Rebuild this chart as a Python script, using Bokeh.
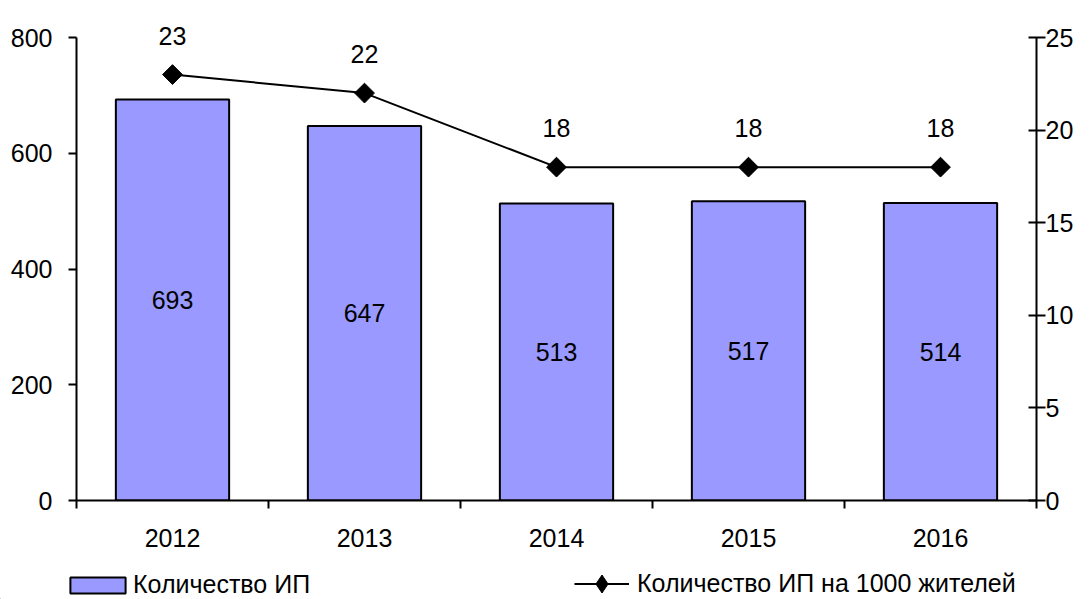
import math
from bokeh.plotting import figure
from bokeh.layouts import column
from bokeh.models import (Range1d, LinearAxis, FixedTicker, ColumnDataSource, LabelSet,
                          Legend, LegendItem)
from bokeh.core.properties import value
from bokeh.embed import file_html
from bokeh.resources import INLINE

years = ["2012", "2013", "2014", "2015", "2016"]
ip_count = [693, 647, 513, 517, 514]
ip_per_1000 = [23, 22, 18, 18, 18]
left_ticks = [0, 200, 400, 600, 800]
right_ticks = [0, 5, 10, 15, 20, 25]
legend_labels = ["Количество ИП", "Количество ИП на 1000 жителей"]

FONT = "Liberation Sans"
FS = "25px"
BAR_COLOR = "#9999FF"

W = 1089
H_MAIN, H_LEG = 550, 49
FL, FR, FB = 76, 1036, 500          # frame left / right / bottom in px
AX_TOP = 37                          # pixel where axis max sits
FT = 0                               # frame top (extended so top label isn't clipped)
ext = (FB - FT) / (FB - AX_TOP)

xs = [i + 0.5 for i in range(len(years))]
src = ColumnDataSource(dict(
    x=xs, cnt=ip_count, mid=[v / 2 for v in ip_count], per=ip_per_1000,
    cnt_lbl=[str(v) for v in ip_count], per_lbl=[str(v) for v in ip_per_1000],
))

p = figure(width=W, height=H_MAIN, output_backend="svg", toolbar_location=None,
           x_range=Range1d(0, len(years)), y_range=Range1d(0, left_ticks[-1] * ext),
           min_border_left=FL, min_border_right=W - FR, min_border_top=FT,
           min_border_bottom=H_MAIN - FB)
p.extra_y_ranges = {"r": Range1d(0, right_ticks[-1] * ext)}
p.outline_line_color = None
p.xgrid.visible = False
p.ygrid.visible = False

xax = p.xaxis[0]
xax.ticker = FixedTicker(ticks=xs, minor_ticks=list(range(len(years) + 1)))
xax.major_label_overrides = {x: y for x, y in zip(xs, years)}
xax.major_tick_out = 0
xax.major_tick_in = 0
xax.minor_tick_out = 8
xax.minor_tick_in = 0
xax.minor_tick_line_color = "black"
xax.minor_tick_line_width = 2
xax.axis_line_width = 2
xax.axis_line_color = "black"
xax.major_label_text_font = FONT
xax.major_label_text_font_size = FS
xax.major_label_text_color = "black"
xax.major_label_standoff = 20

yax = p.yaxis[0]
yax.ticker = FixedTicker(ticks=left_ticks)
yax.bounds = (left_ticks[0], left_ticks[-1])
yax.major_tick_out = 8
yax.major_tick_in = 0
yax.minor_tick_out = 0
yax.minor_tick_in = 0
yax.major_tick_line_width = 2
yax.axis_line_width = 2
yax.major_label_text_font = FONT
yax.major_label_text_font_size = FS
yax.major_label_text_color = "black"
yax.major_label_standoff = 16

rax = LinearAxis(y_range_name="r", ticker=FixedTicker(ticks=right_ticks),
                 bounds=(right_ticks[0], right_ticks[-1]))
rax.major_tick_out = 9
rax.major_tick_in = 8
rax.minor_tick_out = 0
rax.minor_tick_in = 0
rax.major_tick_line_width = 2
rax.axis_line_width = 2
rax.major_label_text_font = FONT
rax.major_label_text_font_size = FS
rax.major_label_text_color = "black"
rax.major_label_standoff = 0
p.add_layout(rax, "right")

p.vbar(x="x", top="cnt", width=0.59, source=src, fill_color=BAR_COLOR,
       line_color="black", line_width=2)
p.line(x="x", y="per", source=src, y_range_name="r", line_color="black", line_width=2)
p.scatter(x="x", y="per", source=src, y_range_name="r", marker="square",
          angle=math.pi / 4, size=14, fill_color="black", line_color="black")

p.add_layout(LabelSet(x="x", y="mid", text="cnt_lbl", source=src, text_align="center",
                      text_baseline="middle", text_font=value(FONT),
                      text_font_size=value(FS), text_color="black"))
p.add_layout(LabelSet(x="x", y="per", text="per_lbl", source=src, y_range_name="r",
                      y_offset=39, text_align="center", text_baseline="middle",
                      text_font=value(FONT), text_font_size=value(FS), text_color="black"))

# legend strip below the chart
lg = figure(width=W, height=H_LEG, output_backend="svg", toolbar_location=None,
            x_range=Range1d(0, 1), y_range=Range1d(0, 1),
            x_axis_type=None, y_axis_type=None, min_border=0)
for fig in (p, lg):
    if "frame_align" in fig.properties():
        fig.frame_align = False
lg.outline_line_color = None
lg.xgrid.visible = False
lg.ygrid.visible = False
# legend-only renderers, placed outside the visible range
dummy = ColumnDataSource(dict(x=[-10], y=[-10]))
lb = lg.vbar(x="x", top="y", width=0.5, source=dummy, fill_color=BAR_COLOR,
             line_color="black", line_width=2)
ll = lg.line(x="x", y="y", source=dummy, line_color="black", line_width=2)
lm = lg.scatter(x="x", y="y", source=dummy, marker="diamond", size=14,
                fill_color="black", line_color="black")

common = dict(orientation="horizontal", padding=0,
              margin=0, border_line_color=None, background_fill_alpha=0,
              label_text_font=FONT, label_text_font_size=FS, label_text_color="black",
              label_height=16)
leg1 = Legend(items=[LegendItem(label=legend_labels[0], renderers=[lb])],
              location=(63, 0), glyph_width=69, glyph_height=20, label_standoff=1,
              **common)
leg2 = Legend(items=[LegendItem(label=legend_labels[1], renderers=[ll, lm])],
              location=(574, -7), glyph_width=55, glyph_height=45, label_standoff=8,
              **common)
lg.add_layout(leg1, "center")
lg.add_layout(leg2, "center")

layout = column(p, lg, spacing=0)
open("out.html", "w").write(file_html(layout, INLINE))
